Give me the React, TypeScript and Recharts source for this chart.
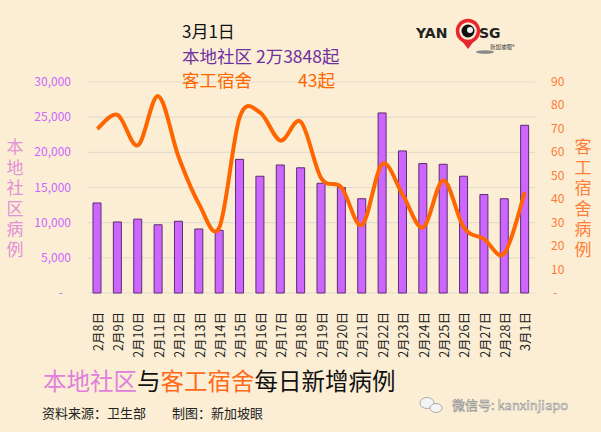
import React from 'react';
import {
  ComposedChart,
  Bar,
  Line,
  XAxis,
  YAxis,
  CartesianGrid,
} from 'recharts';

const days = [
  '2月8日', '2月9日', '2月10日', '2月11日', '2月12日', '2月13日', '2月14日', '2月15日',
  '2月16日', '2月17日', '2月18日', '2月19日', '2月20日', '2月21日', '2月22日', '2月23日',
  '2月24日', '2月25日', '2月26日', '2月27日', '2月28日', '3月1日',
];

// 本地社区 (left axis)
const communityCases = [
  12800, 10100, 10500, 9700, 10200, 9100, 8900, 19000, 16600, 18200, 17800,
  15600, 15000, 13400, 25600, 20200, 18400, 18300, 16600, 14000, 13400, 23848,
];

// 客工宿舍 (right axis)
const dormCases = [
  70, 76, 63, 84, 58, 38, 28, 75, 77, 65, 73, 49, 45, 29, 55, 42, 28, 48, 28, 23, 17, 43,
];

const leftTicks = [0, 5000, 10000, 15000, 20000, 25000, 30000];
const rightTicks = [0, 10, 20, 30, 40, 50, 60, 70, 80, 90];

const data = days.map((d, i) => ({
  day: d,
  community: communityCases[i],
  dorm: dormCases[i],
}));

const FONT = '"Noto Sans CJK SC", "Noto Sans", sans-serif';

// Excel-style smoothed line (catmull-rom like bezier)
const excelSmooth = (context: any) => {
  let pts: number[][] = [];
  return {
    areaStart() {},
    areaEnd() {},
    lineStart() {
      pts = [];
    },
    point(x: number, y: number) {
      pts.push([+x, +y]);
    },
    lineEnd() {
      const n = pts.length;
      if (!n) return;
      context.moveTo(pts[0][0], pts[0][1]);
      for (let i = 0; i < n - 1; i++) {
        const p0 = pts[i - 1] || pts[i];
        const p1 = pts[i];
        const p2 = pts[i + 1];
        const p3 = pts[i + 2] || p2;
        context.bezierCurveTo(
          p1[0] + (p2[0] - p0[0]) / 6,
          p1[1] + (p2[1] - p0[1]) / 6,
          p2[0] - (p3[0] - p1[0]) / 6,
          p2[1] - (p3[1] - p1[1]) / 6,
          p2[0],
          p2[1]
        );
      }
    },
  };
};

const LeftTick = (props: any) => {
  const { x, y, payload } = props;
  const zero = payload.value === 0;
  return (
    <text x={zero ? x - 8 : x} y={y} dy={4} textAnchor="end" fill="#cc66ff" fontSize={12} fontFamily={FONT}>
      {zero ? '-' : payload.value.toLocaleString('en-US')}
    </text>
  );
};

const RightTick = (props: any) => {
  const { x, y, payload } = props;
  const zero = payload.value === 0;
  return (
    <text x={zero ? x + 2 : x} y={y} dy={4} textAnchor="start" fill="#ff7a30" fontSize={12} fontFamily={FONT}>
      {zero ? '-' : payload.value}
    </text>
  );
};

const DayTick = (props: any) => {
  const { x, y, payload } = props;
  return (
    <text
      x={x}
      y={y}
      transform={`rotate(-90, ${x}, ${y})`}
      textAnchor="end"
      dominantBaseline="central"
      fill="#222"
      fontSize={12.5}
      fontFamily={FONT}
    >
      {payload.value}
    </text>
  );
};

const stacked = (chars: string, x: number, y0: number, color: string) => (
  <text
    x={x}
    y={y0}
    fill={color}
    fontSize={17}
    fontFamily={FONT}
    style={{ writingMode: 'vertical-rl', letterSpacing: 3.6 }}
  >
    {chars}
  </text>
);

export default function App() {
  return (
    <div style={{ position: 'fixed', left: 0, top: 0, width: 601, height: 432, background: '#fbeed4', overflow: 'hidden' }}>
      <ComposedChart
        width={601}
        height={432}
        data={data}
        margin={{ top: 82, right: 16, left: 27, bottom: 79 }}
        barCategoryGap={0}
      >
        <CartesianGrid yAxisId="left" vertical={false} stroke="#e3ddd0" strokeWidth={1.2} />
        <XAxis
          dataKey="day"
          interval={0}
          height={60}
          axisLine={false}
          tickLine={false}
          tick={<DayTick />}
          tickMargin={13}
        />
        <YAxis
          yAxisId="left"
          width={60}
          domain={[0, 30000]}
          ticks={leftTicks}
          axisLine={false}
          tickLine={false}
          tickSize={0}
          tickMargin={16}
          tick={<LeftTick />}
        />
        <YAxis
          yAxisId="right"
          orientation="right"
          width={50}
          domain={[0, 90]}
          ticks={rightTicks}
          axisLine={false}
          tickLine={false}
          tickSize={0}
          tickMargin={16}
          tick={<RightTick />}
        />
        <Bar
          yAxisId="left"
          dataKey="community"
          barSize={8}
          fill="#cc66ff"
          stroke="#5b2c6f"
          strokeWidth={1}
          isAnimationActive={false}
        />
        <Line
          yAxisId="right"
          dataKey="dorm"
          type={excelSmooth as any}
          stroke="#ff6600"
          strokeWidth={4}
          dot={false}
          activeDot={false}
          isAnimationActive={false}
        />
      </ComposedChart>
      <svg width={601} height={432} style={{ position: 'absolute', left: 0, top: 0, pointerEvents: 'none' }}>
        {/* header */}
        <text x={182} y={38} fill="#111" fontSize={17} fontFamily={FONT}>3月1日</text>
        <text x={182} y={63} fill="#7030a0" fontSize={17.5} fontFamily={FONT}>本地社区 2万3848起</text>
        <text x={182} y={87} fill="#ff6600" fontSize={17.5} fontFamily={FONT}>客工宿舍</text>
        <text x={335} y={87} textAnchor="end" fill="#ff6600" fontSize={17.5} fontFamily={FONT}>43起</text>

        {/* logo */}
        <text x={416} y={38} fill="#222" fontSize={14} fontWeight="bold" fontFamily="DejaVu Sans, sans-serif">YAN</text>
        <circle cx={468} cy={31} r={10.5} fill="none" stroke="#e8262d" strokeWidth={3.5} />
        <path d="M462 41 L468 49 L474 41 Z" fill="#e8262d" />
        <circle cx={468} cy={31} r={6.5} fill="#111" />
        <circle cx={470} cy={30} r={3} fill="#f3f3f3" />
        <text x={479} y={38} fill="#222" fontSize={14} fontWeight="bold" fontFamily="DejaVu Sans, sans-serif">SG</text>
        <text x={490} y={49} fill="#333" fontSize={5.5} fontFamily={FONT}>新加坡眼®</text>
        <ellipse cx={485} cy={52} rx={9} ry={1.8} fill="#888" />

        {/* axis titles */}
        {stacked('本地社区病例', 15, 138, '#e291d8')}
        {stacked('客工宿舍病例', 583, 138, '#ff7f3a')}

        {/* footer */}
        <text x={43} y={390} fontSize={23.5} fontFamily={FONT}>
          <tspan fill="#e080dc">本地社区</tspan>
          <tspan fill="#111">与</tspan>
          <tspan fill="#ff6a1a">客工宿舍</tspan>
          <tspan fill="#111">每日新增病例</tspan>
        </text>
        <text x={42} y={418} fill="#222" fontSize={13} fontFamily={FONT}>资料来源：卫生部</text>
        <text x={172} y={418} fill="#222" fontSize={13} fontFamily={FONT}>制图：新加坡眼</text>

        {/* wechat mark */}
        <g fill="#f4f4f4" stroke="#999" strokeWidth={0.8}>
          <ellipse cx={427} cy={403} rx={7} ry={5.5} />
          <ellipse cx={436} cy={408} rx={6} ry={4.5} />
        </g>
        <text x={452} y={410} fill="#f2f2f2" stroke="#8a8a8a" strokeWidth={0.5} fontSize={13} fontFamily={FONT}>微信号: kanxinjiapo</text>
      </svg>
    </div>
  );
}
